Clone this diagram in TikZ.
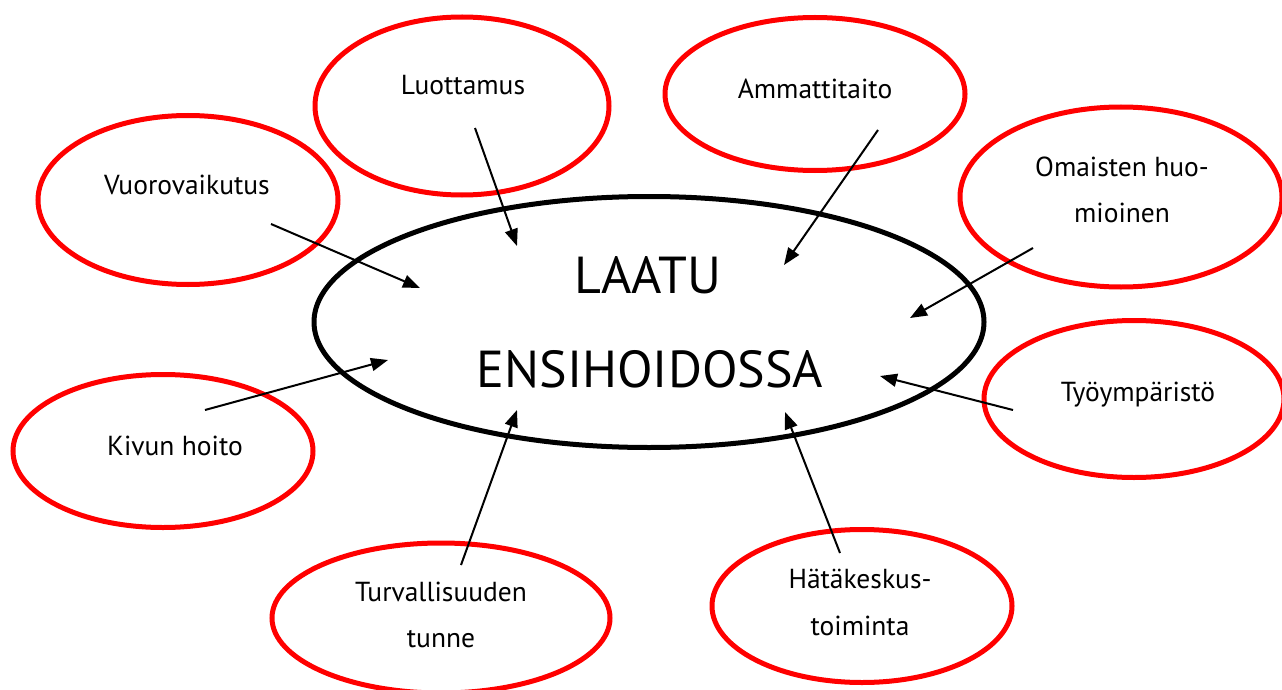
\documentclass[tikz,border=0pt]{standalone}
\usepackage{fontspec}
\setmainfont{PT Sans}
\usetikzlibrary{shapes.geometric,arrows.meta}
\begin{document}
\begin{tikzpicture}[x=1pt,y=-1pt,
  redell/.style={ellipse,draw=red,line width=5pt,inner sep=0pt},
  mainell/.style={ellipse,draw=black,line width=5pt,inner sep=0pt},
  lbl/.style={anchor=base,inner sep=0pt,font=\fontsize{27.5}{32}\selectfont},
  biglbl/.style={anchor=base,inner sep=0pt,font=\fontsize{52}{60}\selectfont},
  arr/.style={line width=2pt,-{Triangle[length=17pt,width=13pt]}}]
\useasboundingbox[fill=white] (0,0) rectangle (1282,690);
% central ellipse
\node[mainell,minimum width=670pt,minimum height=251pt] (main) at (649,322) {};
\node[biglbl] (t1) at (648,293) {LAATU};
\node[biglbl] (t2) at (650,387) {ENSIHOIDOSSA};
% red ellipses
\node[redell,minimum width=294pt,minimum height=178pt] (luot) at (462,106) {};
\node[redell,minimum width=300pt,minimum height=153pt] (amm) at (815,94) {};
\node[redell,minimum width=300pt,minimum height=169pt] (vuor) at (188,200) {};
\node[redell,minimum width=322pt,minimum height=180pt] (omai) at (1121,197) {};
\node[redell,minimum width=300pt,minimum height=157pt] (tyo) at (1134,399) {};
\node[redell,minimum width=300pt,minimum height=153pt] (kiv) at (163,451) {};
\node[redell,minimum width=338pt,minimum height=150pt] (turv) at (441,618) {};
\node[redell,minimum width=300pt,minimum height=153pt] (hata) at (862,606) {};
% labels
\node[lbl] (l1) at (463,95) {Luottamus};
\node[lbl] (l2) at (815,99) {Ammattitaito};
\node[lbl] (l3) at (187,194) {Vuorovaikutus};
\node[lbl] (l4a) at (1122,176) {Omaisten huo-};
\node[lbl] (l4b) at (1122,222) {mioinen};
\node[lbl] (l5) at (1138,401) {Työympäristö};
\node[lbl] (l6) at (175,455) {Kivun hoito};
\node[lbl] (l7a) at (441,601) {Turvallisuuden};
\node[lbl] (l7b) at (441,647) {tunne};
\node[lbl] (l8a) at (860,588) {Hätäkeskus-};
\node[lbl] (l8b) at (860,635) {toiminta};
% arrow coordinates
\coordinate (s1) at (475,128); \coordinate (e1) at (517,246);
\coordinate (s2) at (878,130); \coordinate (e2) at (784,265);
\coordinate (s3) at (271,224); \coordinate (e3) at (420,288);
\coordinate (s4) at (1033,248); \coordinate (e4) at (910,318);
\coordinate (s5) at (1013,410); \coordinate (e5) at (880,376);
\coordinate (s6) at (205,410); \coordinate (e6) at (388,360);
\coordinate (s7) at (461,565); \coordinate (e7) at (517,410);
\coordinate (s8) at (840,553); \coordinate (e8) at (785,412);
\foreach \i in {1,...,8} {\draw[arr] (s\i) -- (e\i);}
\end{tikzpicture}
\end{document}
